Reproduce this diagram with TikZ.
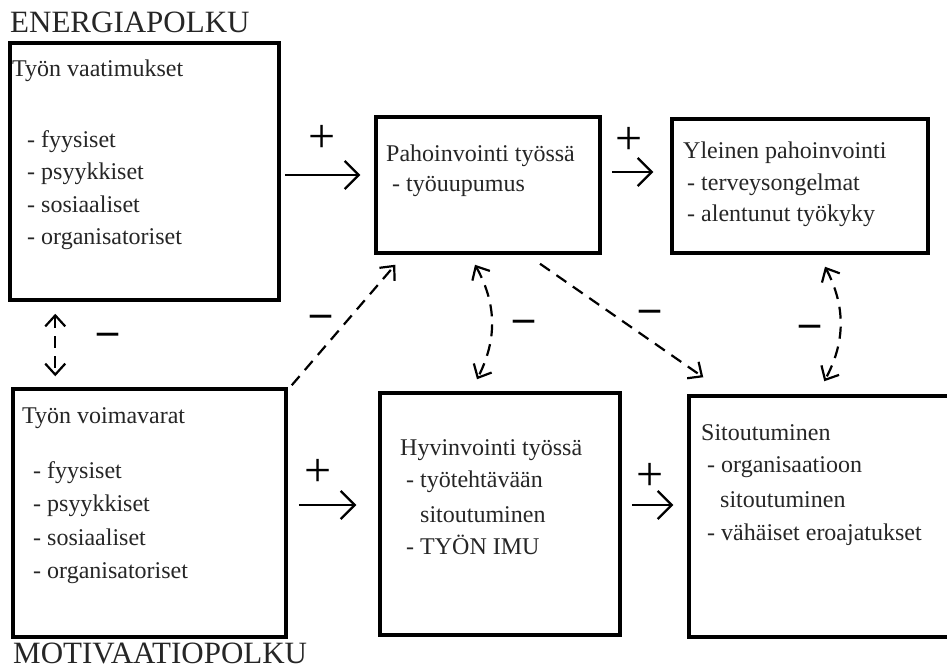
\documentclass[tikz,border=0pt]{standalone}
\usepackage{fontspec}
\setmainfont{Liberation Serif}
\usetikzlibrary{arrows.meta,calc}
\begin{document}
\begin{tikzpicture}[x=1pt,y=-1pt,
  box/.style={draw, line width=3.5pt, inner sep=0pt, rectangle},
  txt/.style={anchor=base west, inner sep=0pt, font=\fontsize{24}{28}\selectfont, text=black!85},
  ttl/.style={anchor=base west, inner sep=0pt, font=\fontsize{31}{36}\selectfont, text=black!85},
  sgn/.style={inner sep=0pt, font=\fontsize{42}{48}\selectfont\bfseries},
  psgn/.style={inner sep=0pt, font=\fontsize{48}{52}\selectfont},
  tipS/.style={-{Straight Barb[length=14pt,width=28pt,line width=2.2pt]}},
  sarr/.style={line width=2.2pt, tipS},
  darr/.style={line width=2.2pt, dash pattern=on 12pt off 8pt, -{Straight Barb[length=11pt,width=20pt,line width=2.2pt]}},
  ddarr/.style={line width=2.2pt, dash pattern=on 12pt off 8pt, {Straight Barb[length=11pt,width=20pt,line width=2.2pt]}-{Straight Barb[length=11pt,width=20pt,line width=2.2pt]}}
]
\useasboundingbox (0,0) rectangle (947,668);
\clip (0,0) rectangle (947,668);
\fill[white] (0,0) rectangle (947,668);

% boxes
\node[box, minimum width=269pt, minimum height=257pt] (b1) at (144.5,171.5) {};
\node[box, minimum width=224pt, minimum height=136pt] (pah) at (488,185) {};
\node[box, minimum width=256pt, minimum height=134pt] (yle) at (800,186) {};
\node[box, minimum width=273pt, minimum height=248pt] (voi) at (149.5,513) {};
\node[box, minimum width=240pt, minimum height=242pt] (hyv) at (500,514) {};
\node[box, minimum width=276pt, minimum height=241pt] (sit) at (827,516.5) {};

% titles
\node[ttl] (t1) at (10,33) {ENERGIAPOLKU};
\node[ttl] (t2) at (13,663) {MOTIVAATIOPOLKU};

% texts
\node[txt] (b1a) at (12,77) {Työn vaatimukset};
\node[txt] (b1b) at (27,148) {- fyysiset};
\node[txt] (b1c) at (27,180) {- psyykkiset};
\node[txt] (b1d) at (27,213) {- sosiaaliset};
\node[txt] (b1e) at (27,245) {- organisatoriset};

\node[txt] (pa) at (386,162) {Pahoinvointi työssä};
\node[txt] (pb) at (392,192) {- työuupumus};

\node[txt] (ya) at (683,159) {Yleinen pahoinvointi};
\node[txt] (yb) at (687,191) {- terveysongelmat};
\node[txt] (yc) at (687,222) {- alentunut työkyky};

\node[txt] (va) at (22,423) {Työn voimavarat};
\node[txt] (vb) at (33,478) {- fyysiset};
\node[txt] (vc) at (33,511) {- psyykkiset};
\node[txt] (vd) at (33,545) {- sosiaaliset};
\node[txt] (ve) at (33,578) {- organisatoriset};

\node[txt] (ha) at (400,455) {Hyvinvointi työssä};
\node[txt] (hb) at (406,487) {- työtehtävään};
\node[txt] (hc) at (420,522) {sitoutuminen};
\node[txt] (hd) at (406,554) {- TYÖN IMU};

\node[txt] (sa) at (701,440) {Sitoutuminen};
\node[txt] (sb) at (707,472) {- organisaatioon};
\node[txt] (sc) at (720,507) {sitoutuminen};
\node[txt] (sd) at (707,540) {- vähäiset eroajatukset};

% solid arrows
\draw[sarr] ($(b1.east)+(4,3.5)$) -- ($(b1.east -| pah.west)+(-14,3.5)$);
\draw[sarr] ($(pah.east)+(10,-13)$) -- ($(pah.east -| yle.west)+(-17,-13)$);
\draw[sarr] ($(voi.east)+(11,-8)$) -- ($(voi.east -| hyv.west)+(-22,-8)$);
\draw[sarr] ($(hyv.east)+(10,-9)$) -- ($(hyv.east -| sit.west)+(-14,-9)$);

% plus signs
\node[psgn] (p1) at (322,139) {+};
\node[psgn] (p2) at (629,141) {+};
\node[psgn] (p3) at (318,473) {+};
\node[psgn] (p4) at (650,477) {+};

% dashed arrows
\draw[ddarr] ($(b1.south west)+(47,12)$) -- ($(voi.north west)+(44,-11)$);
\draw[darr] ($(voi.north east)+(4,-2)$) -- ($(pah.south west)+(21,10)$);
\draw[ddarr] ($(pah.south)+(-13,10)$) to[bend left=28] ($(hyv.north)+(-23,-12)$);
\draw[darr] ($(pah.south)+(52,9)$) -- ($(sit.north west)+(16,-17)$);
\draw[ddarr] ($(yle.south)+(25,12)$) to[bend left=28] ($(sit.north west)+(137,-13)$);

% minus signs
\node[sgn] (m1) at (108,339) {–};
\node[sgn] (m2) at (321,321) {–};
\node[sgn] (m3) at (524,326) {–};
\node[sgn] (m4) at (650,316) {–};
\node[sgn] (m5) at (810,331) {–};
\end{tikzpicture}
\end{document}
